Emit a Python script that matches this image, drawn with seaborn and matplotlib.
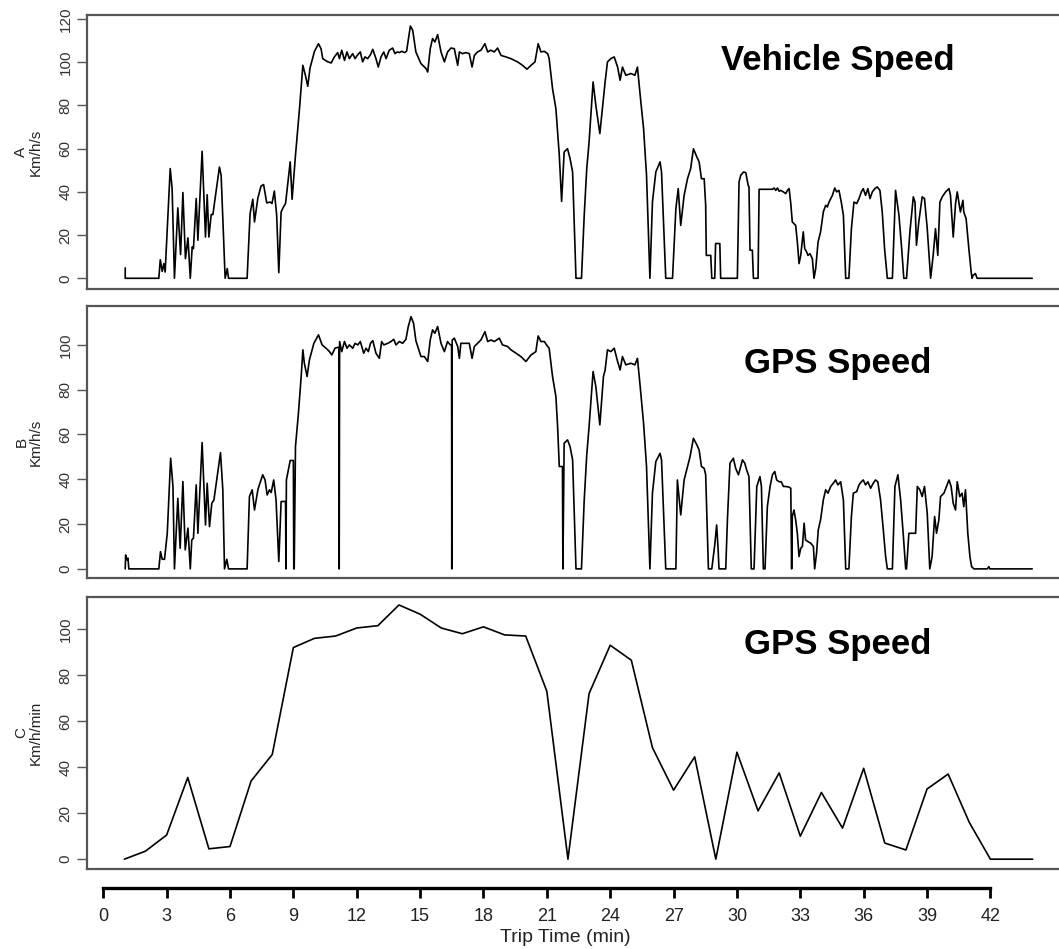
import matplotlib
matplotlib.use("Agg")
import matplotlib.pyplot as plt
import seaborn as sns
import pandas as pd

# panel A: vehicle speed (km/h)
vehicle_t = [1.04, 1.04, 2.63, 2.70, 2.79, 2.87, 2.93, 3.17, 3.26, 3.37, 3.53, 3.66, 3.77, 3.89, 4.01, 4.12,
             4.21, 4.27, 4.40, 4.48, 4.68, 4.84, 4.92, 5.00, 5.11, 5.19, 5.50, 5.58, 5.77, 5.87, 5.93, 6.81,
             6.95, 7.08, 7.16, 7.32, 7.47, 7.59, 7.74, 7.90, 7.99, 8.10, 8.21, 8.31, 8.42, 8.53, 8.63, 8.85,
             8.94, 9.10, 9.29, 9.45, 9.57, 9.68, 9.79, 10.00, 10.19, 10.31, 10.39, 10.63, 10.79, 10.94, 11.10,
             11.18, 11.29, 11.42, 11.54, 11.65, 11.81, 11.92, 12.05, 12.17, 12.28, 12.39, 12.52, 12.65, 12.76,
             12.91, 13.02, 13.15, 13.28, 13.39, 13.54, 13.70, 13.81, 13.91, 14.02, 14.13, 14.26, 14.36, 14.54,
             14.65, 14.80, 15.04, 15.28, 15.36, 15.48, 15.59, 15.70, 15.83, 15.99, 16.15, 16.30, 16.46, 16.62,
             16.78, 16.86, 17.01, 17.17, 17.33, 17.46, 17.57, 17.72, 17.88, 18.07, 18.20, 18.35, 18.51, 18.67,
             18.83, 19.06, 19.30, 19.61, 19.85, 20.06, 20.25, 20.44, 20.59, 20.72, 20.88, 21.04, 21.11, 21.27,
             21.43, 21.59, 21.70, 21.82, 21.98, 22.10, 22.22, 22.38, 22.64, 22.77, 22.89, 23.00, 23.19, 23.32,
             23.51, 23.68, 23.76, 23.87, 24.03, 24.19, 24.35, 24.47, 24.58, 24.74, 24.98, 25.17, 25.29, 25.42,
             25.58, 25.72, 25.88, 26.00, 26.16, 26.36, 26.43, 26.63, 26.95, 27.11, 27.22, 27.34, 27.50, 27.66,
             27.81, 27.94, 28.10, 28.21, 28.32, 28.45, 28.52, 28.55, 28.76, 28.81, 28.95, 28.99, 29.19, 29.23,
             30.02, 30.10, 30.18, 30.31, 30.42, 30.53, 30.57, 30.62, 30.73, 30.78, 31.00, 31.05, 31.68, 31.76,
             31.84, 31.92, 32.00, 32.07, 32.20, 32.31, 32.39, 32.47, 32.55, 32.62, 32.78, 32.86, 32.94, 33.02,
             33.14, 33.21, 33.30, 33.36, 33.46, 33.57, 33.65, 33.73, 33.84, 33.96, 34.09, 34.20, 34.28, 34.36,
             34.52, 34.63, 34.72, 34.83, 34.94, 35.04, 35.15, 35.30, 35.42, 35.54, 35.67, 35.78, 35.89, 35.98,
             36.09, 36.20, 36.30, 36.41, 36.53, 36.64, 36.77, 36.88, 36.99, 37.12, 37.36, 37.51, 37.67, 37.80,
             37.90, 38.03, 38.19, 38.35, 38.43, 38.50, 38.61, 38.77, 38.88, 39.01, 39.17, 39.29, 39.40, 39.51,
             39.61, 39.72, 39.88, 40.04, 40.11, 40.24, 40.35, 40.43, 40.58, 40.70, 40.74, 40.85, 40.98, 41.09,
             41.13, 41.18, 41.29, 41.37, 43.98]
vehicle_v = [4.8, 0, 0, 8.6, 3.2, 6.8, 2.9, 50.8, 41.5, 0, 32.6, 11.0, 39.7, 9.1, 18.7, 0,
             14.5, 13.7, 36.9, 17.6, 58.8, 19.1, 38.7, 19.1, 29.5, 29.5, 51.5, 47.7, 0, 4.5, 0, 0,
             29.9, 36.6, 26.1, 37.2, 42.7, 43.4, 34.9, 35.3, 34.6, 40.4, 29.2, 2.6, 30.7, 33.0, 34.6, 53.9,
             36.6, 56.9, 78.5, 98.6, 94.0, 88.9, 97.4, 105.1, 108.6, 106.3, 101.7, 100.2, 99.7, 102.5, 104.5,
             101.7, 105.6, 100.9, 104.8, 101.7, 104.0, 101.7, 103.5, 104.8, 100.2, 102.5, 101.7, 103.5, 106.0,
             101.7, 97.8, 102.5, 104.8, 101.7, 105.6, 106.6, 104.0, 104.8, 104.5, 105.1, 104.5, 105.1, 116.8,
             114.8, 104.8, 99.4, 97.1, 95.5, 106.3, 111.0, 109.4, 112.8, 104.8, 100.2, 104.8, 106.6, 106.3,
             98.6, 104.8, 104.0, 104.5, 104.0, 97.8, 103.2, 104.8, 105.6, 108.6, 104.8, 105.6, 104.8, 106.6,
             103.2, 102.5, 101.7, 100.2, 98.6, 96.8, 98.6, 100.2, 108.6, 104.8, 105.1, 104.0, 101.7, 87.8,
             78.5, 56.9, 35.6, 58.5, 60.0, 55.4, 49.2, 0, 0, 29.2, 50.8, 63.1, 90.9, 80.1,
             67.0, 83.2, 90.9, 100.2, 101.7, 102.5, 97.8, 91.7, 97.8, 94.0, 94.8, 94.0, 97.8, 84.7,
             69.3, 47.7, 0, 35.3, 49.2, 53.9, 49.2, 0, 0, 32.3, 41.5, 24.5, 38.4, 46.1,
             50.8, 60.0, 56.2, 53.9, 46.1, 46.1, 33.8, 10.6, 10.6, 0, 0, 16.1, 16.1, 0,
             0, 44.6, 47.7, 49.2, 48.9, 43.1, 42.3, 13.0, 13.0, 0, 0, 41.2, 41.2, 41.8,
             40.7, 41.8, 40.3, 40.7, 40.0, 39.2, 40.7, 41.5, 34.6, 26.1, 24.5, 16.8, 6.8, 10.6,
             21.5, 13.7, 12.2, 10.6, 11.4, 9.1, 0, 4.5, 16.8, 21.5, 30.7, 33.8, 33.0, 35.3,
             38.4, 41.8, 40.0, 40.7, 35.3, 29.2, 0, 0, 23.0, 35.3, 34.6, 36.9, 40.0, 41.5,
             38.4, 41.5, 36.9, 40.0, 41.5, 42.3, 40.7, 30.7, 13.7, 0, 0, 40.7, 29.2, 13.7,
             0, 0, 21.5, 37.7, 35.3, 15.3, 26.1, 37.7, 36.9, 23.0, 0, 10.6, 23.0, 10.6,
             35.3, 37.7, 40.0, 41.5, 38.4, 19.1, 34.6, 40.0, 30.7, 36.1, 30.7, 27.6, 13.7, 2.9,
             0, 1.4, 2.2, 0, 0]

# panel B: GPS speed (km/h), per-second trace
gps_t = [1.04, 1.06, 1.12, 1.17, 1.21, 2.63, 2.71, 2.79, 2.90, 3.03, 3.19, 3.30, 3.37, 3.53, 3.64, 3.77,
         3.88, 4.01, 4.12, 4.19, 4.27, 4.40, 4.48, 4.68, 4.84, 4.92, 5.03, 5.14, 5.24, 5.55, 5.66, 5.74,
         5.85, 5.93, 6.81, 6.92, 7.05, 7.16, 7.32, 7.39, 7.55, 7.66, 7.76, 7.87, 7.95, 8.07, 8.18, 8.31,
         8.42, 8.63, 8.65, 8.67, 8.85, 9.00, 9.02, 9.04, 9.10, 9.24, 9.37, 9.45, 9.52, 9.65, 9.76, 9.97,
         10.19, 10.36, 10.55, 10.71, 10.82, 10.97, 11.10, 11.16, 11.17, 11.19, 11.29, 11.42, 11.54, 11.65,
         11.81, 11.92, 12.05, 12.17, 12.33, 12.44, 12.55, 12.65, 12.76, 12.91, 13.07, 13.18, 13.28, 13.47,
         13.62, 13.75, 13.86, 14.02, 14.17, 14.33, 14.44, 14.57, 14.69, 14.80, 15.04, 15.20, 15.36, 15.48,
         15.59, 15.70, 15.83, 15.99, 16.15, 16.30, 16.43, 16.49, 16.50, 16.52, 16.62, 16.78, 16.86, 16.93,
         17.17, 17.33, 17.46, 17.57, 17.72, 17.88, 18.07, 18.20, 18.35, 18.51, 18.75, 18.90, 19.14, 19.30,
         19.54, 19.77, 20.01, 20.25, 20.48, 20.59, 20.72, 20.88, 21.04, 21.11, 21.27, 21.43, 21.51, 21.59,
         21.74, 21.76, 21.82, 21.98, 22.10, 22.22, 22.38, 22.64, 22.77, 22.89, 23.00, 23.19, 23.32, 23.51,
         23.68, 23.76, 23.87, 24.03, 24.19, 24.35, 24.47, 24.58, 24.74, 24.98, 25.17, 25.29, 25.42, 25.58,
         25.72, 25.88, 26.00, 26.16, 26.36, 26.43, 26.63, 27.11, 27.18, 27.34, 27.50, 27.66, 27.78, 27.94,
         28.10, 28.21, 28.32, 28.45, 28.52, 28.65, 28.81, 28.95, 29.04, 29.11, 29.15, 29.47, 29.55, 29.67,
         29.83, 29.94, 30.07, 30.18, 30.26, 30.37, 30.46, 30.57, 30.68, 30.81, 30.94, 31.09, 31.16, 31.25,
         31.33, 31.44, 31.57, 31.68, 31.79, 31.88, 32.00, 32.10, 32.20, 32.31, 32.47, 32.55, 32.59, 32.62,
         32.70, 32.78, 32.86, 32.94, 33.02, 33.10, 33.18, 33.25, 33.36, 33.49, 33.62, 33.68, 33.77, 33.85,
         33.96, 34.09, 34.20, 34.31, 34.44, 34.56, 34.67, 34.78, 34.91, 35.04, 35.15, 35.30, 35.42, 35.51,
         35.67, 35.78, 35.89, 35.98, 36.09, 36.20, 36.33, 36.45, 36.56, 36.67, 36.80, 36.93, 37.04, 37.12,
         37.36, 37.48, 37.62, 37.75, 37.87, 37.99, 38.03, 38.14, 38.46, 38.54, 38.66, 38.77, 38.88, 39.01,
         39.13, 39.24, 39.36, 39.45, 39.56, 39.64, 39.80, 39.92, 40.04, 40.14, 40.24, 40.35, 40.43, 40.55,
         40.66, 40.74, 40.82, 40.93, 41.03, 41.11, 41.22, 41.85, 41.93, 41.97, 43.98]
gps_v = [0, 6.2, 4.0, 4.8, 0, 0, 7.7, 4.3, 4.3, 15.9, 49.4, 36.8, 0, 31.5, 9.2, 39.0,
         8.5, 18.2, 0, 12.9, 13.7, 37.5, 15.9, 56.4, 19.6, 38.2, 18.9, 29.3, 30.8, 51.9, 35.3, 0,
         4.3, 0, 0, 32.3, 35.3, 26.3, 35.3, 37.5, 42.0, 39.7, 33.0, 35.3, 34.1, 39.7, 30.8, 3.3,
         30.1, 30.1, 0, 39.7, 48.4, 48.4, 0, 0, 54.6, 69.5, 85.9, 97.8, 91.8, 85.9, 93.3, 100.7,
         104.5, 100.0, 98.5, 97.0, 95.5, 98.5, 98.9, 98.9, 0, 101.5, 97.0, 101.5, 98.5, 100.0,
         98.5, 100.7, 100.0, 101.5, 96.3, 98.5, 97.0, 100.7, 101.9, 96.3, 94.0, 101.5, 100.0, 100.7,
         101.5, 102.5, 100.0, 101.5, 100.7, 102.5, 108.2, 112.6, 109.7, 101.9, 94.8, 94.8, 92.6, 102.2,
         106.7, 105.2, 108.2, 100.7, 97.0, 101.5, 100.0, 100.0, 0, 102.2, 103.0, 99.3, 94.0, 100.7,
         100.7, 100.7, 94.0, 99.3, 100.7, 102.2, 105.9, 101.5, 102.2, 101.5, 103.0, 100.0, 99.3, 97.8,
         96.3, 94.8, 92.6, 95.5, 97.0, 104.0, 101.5, 101.5, 99.3, 98.5, 85.9, 76.9, 63.5, 45.7,
         45.7, 0, 56.1, 57.6, 54.6, 48.7, 0, 0, 30.8, 50.9, 63.5, 88.1, 81.4, 64.3,
         85.9, 88.8, 97.8, 97.0, 98.5, 92.6, 88.8, 94.8, 91.1, 91.8, 91.1, 94.0, 81.4, 65.0,
         45.7, 0, 33.8, 47.9, 51.6, 48.7, 0, 0, 39.7, 24.1, 39.7, 45.7, 50.1, 58.3,
         55.4, 53.1, 45.7, 44.9, 42.0, 0, 0, 10.7, 19.6, 8.5, 0, 0, 21.9, 47.2,
         49.4, 44.9, 42.0, 45.7, 48.7, 47.2, 44.2, 41.2, 0, 0, 36.8, 41.2, 36.8, 0,
         0, 27.8, 36.8, 42.0, 43.5, 39.7, 38.9, 38.9, 36.8, 36.8, 36.5, 36.0, 0, 23.4,
         26.3, 21.9, 15.9, 5.5, 9.2, 10.0, 20.4, 12.9, 12.2, 11.5, 10.0, 0, 7.0, 17.4,
         21.9, 30.8, 35.3, 33.8, 36.8, 38.2, 39.7, 37.5, 38.9, 30.8, 0, 0, 23.4, 33.8,
         34.5, 37.5, 38.9, 39.7, 37.5, 38.9, 36.0, 38.2, 39.7, 38.9, 30.8, 17.4, 5.5, 0,
         0, 36.8, 42.0, 30.8, 15.9, 0, 0, 15.9, 15.9, 36.8, 35.3, 32.3, 36.8, 24.8,
         0, 5.5, 23.4, 15.9, 21.9, 32.3, 33.8, 36.8, 39.7, 36.8, 29.3, 26.3, 38.9, 32.3,
         33.8, 27.8, 35.3, 15.9, 5.5, 1.0, 0, 0, 1.0, 0, 0]

# panel C: GPS speed averaged per minute
minute_t = [1, 2, 3, 4, 5, 6, 7, 8, 9, 10, 11, 12, 13, 14, 15, 16, 17, 18, 19, 20, 21, 22,
            23, 24, 25, 26, 27, 28, 29, 30, 31, 32, 33, 34, 35, 36, 37, 38, 39, 40, 41, 42, 43, 44]
minute_v = [0, 3.5, 10.5, 35.5, 4.5, 5.5, 34, 45.5, 92, 96, 97, 100.5, 101.5, 110.5, 106.5, 100.5,
            98, 101, 97.5, 97, 73, 0, 72, 93, 86.5, 48.5, 30, 44.5, 0, 46.5, 21, 37.5, 10, 29,
            13.5, 39.5, 7, 4, 30.5, 37, 16, 0, 0, 0]

panel_titles = ["Vehicle Speed", "GPS Speed", "GPS Speed"]
panel_ylabels = ["A\nKm/h/s", "B\nKm/h/s", "C\nKm/h/min"]
x_ticks = list(range(0, 43, 3))

sns.set_theme(style="white")
plt.rcParams["font.family"] = ["Liberation Sans", "DejaVu Sans"]
narrow = ["Liberation Sans Narrow", "DejaVu Sans Condensed", "Liberation Sans"]

W, H = 1059, 949
fig = plt.figure(figsize=(W / 100, H / 100), dpi=100)

left_px, right_px = 87, 1077
xlim = (-0.77, 46.1)
panels = [
    (vehicle_t, vehicle_v, 15, 289.3, (-5.1, 121.9), range(0, 121, 20), 70),
    (gps_t, gps_v, 305.7, 578.3, (-4.2, 117.5), range(0, 101, 20), 373),
    (minute_t, minute_v, 596.7, 869.3, (-4.4, 114.1), range(0, 101, 20), 654),
]

frame_col = "#555555"
for i, (tx, vy, top, bot, ylim, yt, base) in enumerate(panels):
    ax = fig.add_axes([left_px / W, 1 - bot / H, (right_px - left_px) / W, (bot - top) / H])
    df = pd.DataFrame({"t": tx, "v": vy})
    sns.lineplot(data=df, x="t", y="v", ax=ax, color="black", lw=1.2,
                 estimator=None, sort=False)
    ax.set_xlim(*xlim)
    ax.set_ylim(*ylim)
    ax.set_xticks([])
    ax.set_yticks(list(yt))
    ax.set_xlabel("")
    ax.set_ylabel(panel_ylabels[i], fontsize=11, family=narrow, color="#222222", linespacing=1.0)
    ax.yaxis.set_label_coords(-0.045, 0.5)
    ax.tick_params(axis="y", left=True, length=7, width=1, color=frame_col,
                   pad=3.5, labelsize=11, labelcolor="#333333", labelrotation=90)
    for lab in ax.get_yticklabels():
        lab.set_va("center")
        lab.set_family(narrow)
    for sp in ax.spines.values():
        sp.set_visible(True)
        sp.set_color(frame_col)
        sp.set_linewidth(1.6)
    fig.text(838 / W, 1 - base / H, panel_titles[i], fontsize=25, fontweight="bold",
             ha="center", va="baseline", color="black")

# detached R-style time axis below the panels
axx = fig.add_axes([left_px / W, 1 - 888 / H, (right_px - left_px) / W, 0.0001])
axx.patch.set_visible(False)
axx.set_xlim(*xlim)
axx.set_yticks([])
for k in ["top", "left", "right"]:
    axx.spines[k].set_visible(False)
axx.spines["bottom"].set_bounds(x_ticks[0], x_ticks[-1])
axx.spines["bottom"].set_linewidth(2.4)
axx.spines["bottom"].set_color("black")
axx.set_xticks(x_ticks)
axx.set_xticklabels([str(v) for v in x_ticks], family=narrow)
axx.tick_params(axis="x", bottom=True, length=7.5, width=2, color="black",
                pad=7, labelsize=13, labelcolor="#222222")
fig.text(565 / W, 1 - 938 / H, "Trip Time (min)", fontsize=14, family=narrow,
         ha="center", va="center", color="#222222")

fig.savefig("out.png", dpi=100)
